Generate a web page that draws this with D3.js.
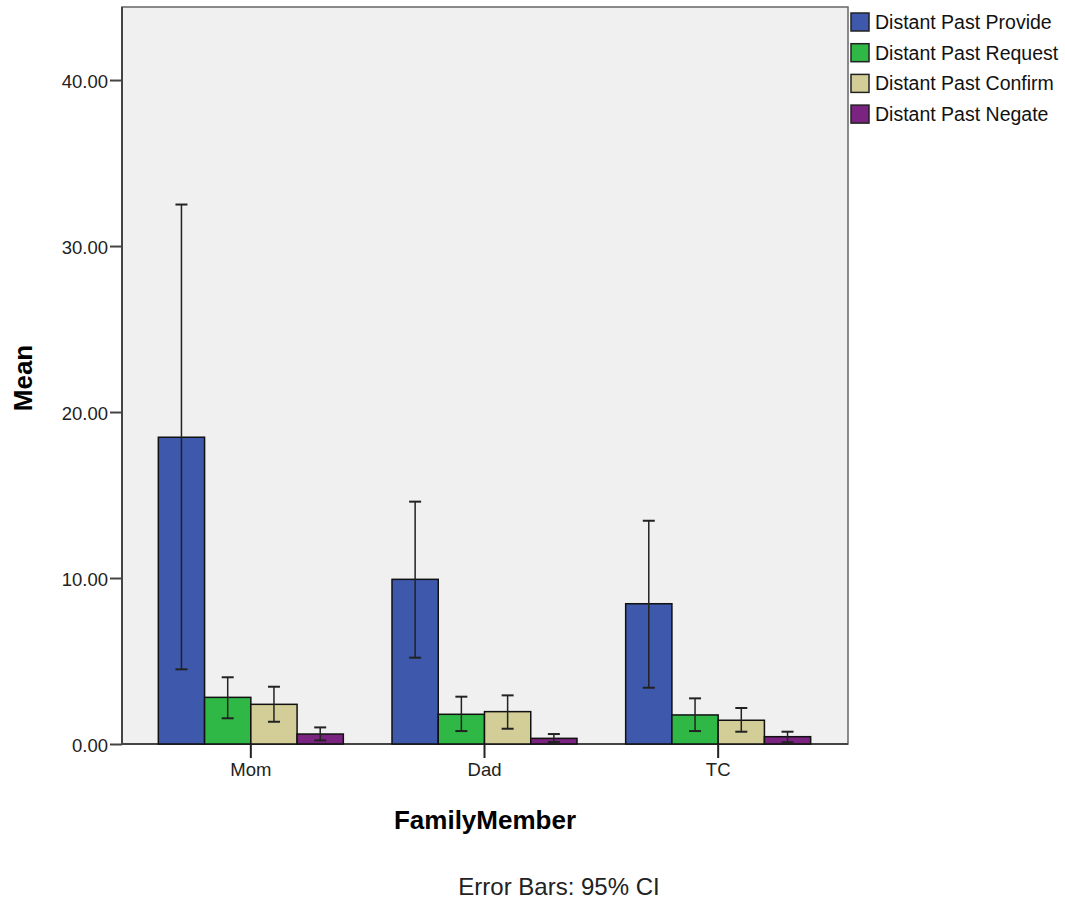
<!DOCTYPE html>
<html lang="en">
<head>
<meta charset="UTF-8">
<title>Distant Past by FamilyMember</title>
<script src="https://d3js.org/d3.v7.min.js"></script>
<style>
  body { margin: 0; background: #fff; }
  text { font-family: "Liberation Sans", Arial, sans-serif; }
</style>
</head>
<body>
<svg id="chart" width="1065" height="903"></svg>
<script>
const categories = ["Mom", "Dad", "TC"];
const seriesNames = ["Distant Past Provide", "Distant Past Request", "Distant Past Confirm", "Distant Past Negate"];
const means = {
  "Distant Past Provide": [18.48, 9.92, 8.45],
  "Distant Past Request": [2.81, 1.79, 1.75],
  "Distant Past Confirm": [2.39, 1.95, 1.43],
  "Distant Past Negate":  [0.60, 0.34, 0.44]
};
const ciLow = {
  "Distant Past Provide": [4.5, 5.2, 3.39],
  "Distant Past Request": [1.55, 0.78, 0.78],
  "Distant Past Confirm": [1.34, 0.92, 0.74],
  "Distant Past Negate":  [0.22, 0.12, 0.10]
};
const ciHigh = {
  "Distant Past Provide": [32.5, 14.6, 13.45],
  "Distant Past Request": [4.02, 2.85, 2.75],
  "Distant Past Confirm": [3.45, 2.93, 2.17],
  "Distant Past Negate":  [1.0, 0.6, 0.74]
};
const yTicks = [0, 10, 20, 30, 40];
const colors = ["#3e58ac", "#30b846", "#d3ce97", "#7a2380"];

const svg = d3.select("#chart");
const plotLeft = 122, plotRight = 848, plotTop = 7, plotBottom = 744;

const y = d3.scaleLinear().domain([0, 44.4]).range([plotBottom, plotTop]);
const x = d3.scaleBand().domain(categories).range([134, 835]);
const xs = d3.scaleBand().domain(seriesNames).range([0, 185]);
const color = d3.scaleOrdinal().domain(seriesNames).range(colors);

// plot background
svg.append("rect")
  .attr("x", plotLeft).attr("y", plotTop)
  .attr("width", plotRight - plotLeft).attr("height", plotBottom - plotTop)
  .attr("fill", "#f0f0f0")
  .attr("stroke", "#666").attr("stroke-width", 1.5);
// darker left and bottom axis lines
svg.append("path")
  .attr("d", `M${plotLeft},${plotTop}V${plotBottom}H${plotRight}`)
  .attr("fill", "none").attr("stroke", "#444").attr("stroke-width", 2);

// bars
const rows = [];
categories.forEach((c, i) => {
  seriesNames.forEach(s => {
    rows.push({ cat: c, series: s, mean: means[s][i], lo: ciLow[s][i], hi: ciHigh[s][i] });
  });
});
const bx = d => x(d.cat) + x.bandwidth() / 2 - 92.5 + xs(d.series);
const cx = d => bx(d) + xs.bandwidth() / 2;

svg.append("g").selectAll("rect")
  .data(rows).join("rect")
  .attr("x", bx)
  .attr("y", d => y(d.mean))
  .attr("width", xs.bandwidth())
  .attr("height", d => y(0) - y(d.mean))
  .attr("fill", d => color(d.series))
  .attr("stroke", "#111").attr("stroke-width", 1.5);

// error bars
const err = svg.append("g").selectAll("g").data(rows).join("g")
  .attr("stroke", "#222").attr("stroke-width", 1.5);
err.append("line")
  .attr("x1", cx).attr("x2", cx)
  .attr("y1", d => y(d.lo)).attr("y2", d => y(d.hi));
err.append("line")
  .attr("x1", d => cx(d) - 6).attr("x2", d => cx(d) + 6)
  .attr("y1", d => y(d.lo)).attr("y2", d => y(d.lo)).attr("stroke-width", 2);
err.append("line")
  .attr("x1", d => cx(d) - 6).attr("x2", d => cx(d) + 6)
  .attr("y1", d => y(d.hi)).attr("y2", d => y(d.hi)).attr("stroke-width", 2);

// y axis
const yAxis = svg.append("g")
  .attr("transform", `translate(${plotLeft},0)`)
  .call(d3.axisLeft(y).tickValues(yTicks).tickFormat(d3.format(".2f")).tickSize(12).tickPadding(2));
yAxis.select(".domain").remove();
yAxis.selectAll("line").attr("stroke", "#444").attr("stroke-width", 2);
yAxis.selectAll("text").attr("font-size", 18.5).attr("fill", "#222").attr("dy", "0.4em")
  .style("font-family", "'Liberation Sans', Arial, sans-serif");

// x axis
const xAxis = svg.append("g")
  .attr("transform", `translate(0,${plotBottom})`)
  .call(d3.axisBottom(x).tickSize(14).tickPadding(5));
xAxis.select(".domain").remove();
xAxis.selectAll("line").attr("stroke", "#222").attr("stroke-width", 2);
xAxis.selectAll("text").attr("font-size", 18.5).attr("fill", "#222")
  .style("font-family", "'Liberation Sans', Arial, sans-serif");

// axis titles
svg.append("text")
  .attr("x", 485).attr("y", 829)
  .attr("text-anchor", "middle")
  .attr("font-size", 26).attr("font-weight", "bold")
  .text("FamilyMember");
svg.append("text")
  .attr("transform", "translate(32,378) rotate(-90)")
  .attr("text-anchor", "middle")
  .attr("font-size", 26).attr("font-weight", "bold")
  .text("Mean");
svg.append("text")
  .attr("x", 559).attr("y", 895)
  .attr("text-anchor", "middle")
  .attr("font-size", 24).attr("fill", "#222")
  .text("Error Bars: 95% CI");

// legend
const legend = svg.append("g").selectAll("g")
  .data(seriesNames).join("g")
  .attr("transform", (d, i) => `translate(851,${13 + i * 30.7})`);
legend.append("rect")
  .attr("width", 18).attr("height", 18)
  .attr("fill", d => color(d))
  .attr("stroke", "#222").attr("stroke-width", 1.5);
legend.append("text")
  .attr("x", 24).attr("y", 16)
  .attr("font-size", 19.5).attr("fill", "#111")
  .text(d => d);
</script>
</body>
</html>
